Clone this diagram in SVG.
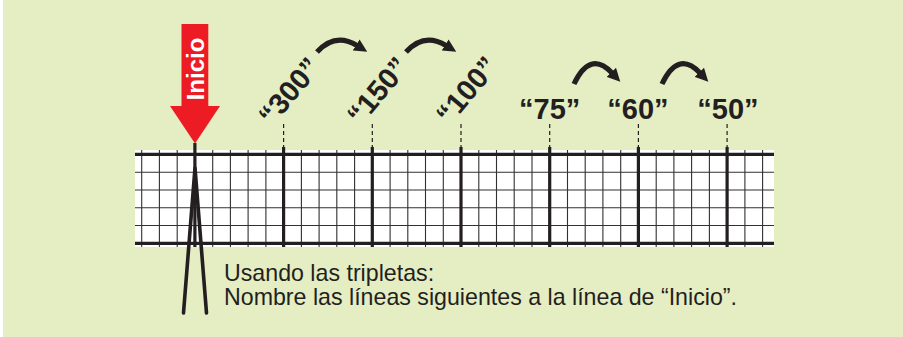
<svg xmlns="http://www.w3.org/2000/svg" width="903" height="337" viewBox="0 0 903 337">
<defs>
<style>
.thin{stroke:#333031;stroke-width:1.1;fill:none}
.thick{stroke:#231f20;stroke-width:3.2;fill:none}
.num{font-family:"Liberation Sans",Arial,sans-serif;font-weight:bold;font-size:29px;fill:#231f20;text-anchor:middle}
.dash{stroke:#231f20;stroke-width:1.2;stroke-dasharray:4 3;fill:none}
.curve{stroke:#231f20;stroke-width:5.2;fill:none;marker-end:url(#head)}
.body{font-family:"Liberation Sans",Arial,sans-serif;font-size:23.2px;fill:#231f20}
</style>
<marker id="head" markerUnits="userSpaceOnUse" markerWidth="14" markerHeight="14" viewBox="0 0 14 14" refX="1" refY="7" orient="auto">
<path d="M0,0.5 L13,7 L0,13.5 z" fill="#231f20"/>
</marker>
</defs>
<rect x="0" y="0" width="903" height="337" fill="#ffffff"/>
<rect x="3" y="0" width="900" height="337" fill="#e5edc3"/>

<g id="grid">
<rect x="135" y="150" width="639" height="97" fill="#ffffff"/>
<path class="thin" d="M135,172.3H774M135,190H774M135,207.7H774M135,225.5H774"/>
<path class="thin" d="M141.7,150V247M159.4,150V247M177.2,150V247M212.7,150V247M230.4,150V247M248.1,150V247M265.9,150V247M301.4,150V247M319.1,150V247M336.8,150V247M354.6,150V247M390.1,150V247M407.8,150V247M425.5,150V247M443.3,150V247M478.8,150V247M496.5,150V247M514.2,150V247M532,150V247M567.5,150V247M585.2,150V247M602.9,150V247M620.7,150V247M656.2,150V247M673.9,150V247M691.6,150V247M709.4,150V247M744.9,150V247M762.6,150V247"/>
<path class="thick" d="M135,154.3H774M135,243.3H774"/>
<path class="thick" stroke-width="2.8" d="M194.9,143V247M283.6,147V247M372.3,147V247M461,147V247M549.7,147V247M638.4,147V247M727.1,147V247"/>
</g>

<g id="tripod">
<path d="M195,168L183.5,313M195,168L206.5,313" stroke="#231f20" stroke-width="3.6" stroke-linecap="round" fill="none"/>
</g>

<g id="inicio">
<rect x="181.5" y="24" width="26.8" height="82.5" fill="#ed1c24"/>
<polygon points="170,106 220,106 195,143.5" fill="#ed1c24"/>
<text transform="translate(203.5,69) rotate(-90)" x="0" y="0" text-anchor="middle" font-family="Liberation Sans, Arial, sans-serif" font-weight="bold" font-size="24" fill="#ffffff">Inicio</text>
</g>

<g id="label-300"><text class="num" transform="translate(289,91) rotate(-50)" x="0" y="10.4">“300”</text></g>
<g id="label-150"><text class="num" transform="translate(377.5,90.5) rotate(-50)" x="0" y="10.4">“150”</text></g>
<g id="label-100"><text class="num" transform="translate(466.5,90) rotate(-50)" x="0" y="10.4">“100”</text></g>
<g id="label-75"><text class="num" x="549.7" y="119">“75”</text></g>
<g id="label-60"><text class="num" x="638" y="119">“60”</text></g>
<g id="label-50"><text class="num" x="728" y="119">“50”</text></g>

<g id="connectors">
<path class="dash" d="M283.6,124V148M372.3,124V148M461,124V148M549.7,124V148M638.4,124V148M727.1,124V148"/>
<path class="curve" d="M317,52 Q335,32 357,45.5"/>
<path class="curve" d="M406,52 Q424,32 446,45.5"/>
<path class="curve" d="M574,84 Q590,50 612,73"/>
<path class="curve" d="M662,84 Q678,50 700,73"/>
</g>

<g id="caption">
<text class="body" x="224" y="280.5">Usando las tripletas:</text>
<text class="body" x="224" y="305">Nombre las líneas siguientes a la línea de “Inicio”.</text>
</g>
</svg>
